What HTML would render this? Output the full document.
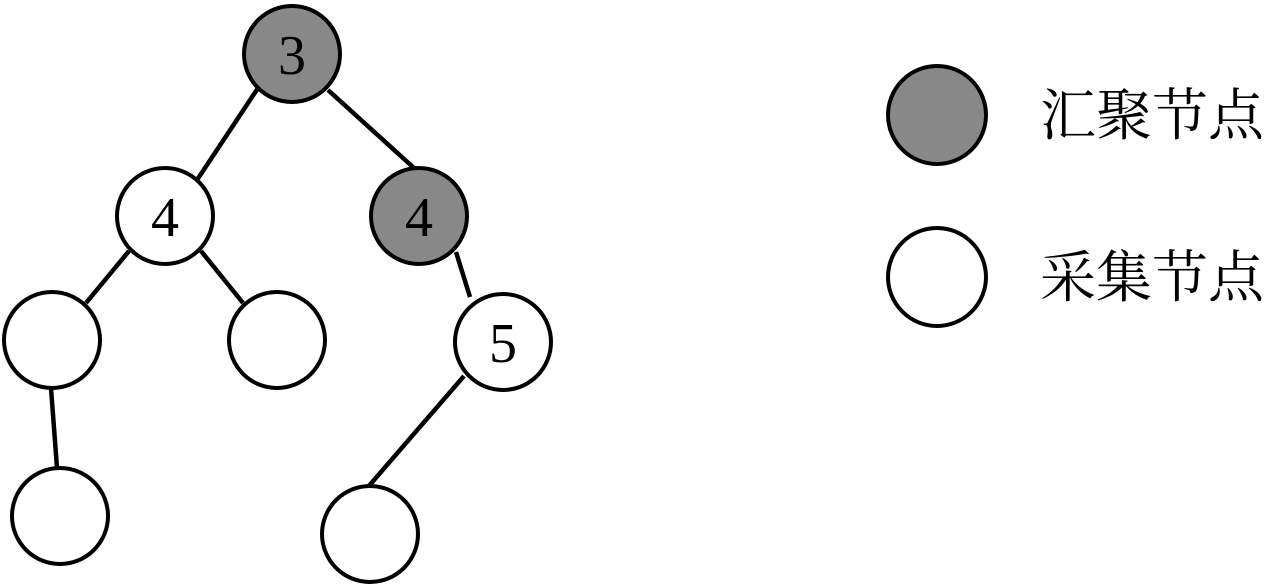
<!DOCTYPE html>
<html><head><meta charset="utf-8"><style>html,body{margin:0;padding:0;background:#fff}</style></head>
<body>
<svg width="1271" height="588" xmlns="http://www.w3.org/2000/svg" style="display:block">
<g stroke="#000" stroke-width="4.5" fill="none">
<line x1="258" y1="88" x2="197" y2="180"/>
<line x1="328" y1="90" x2="414" y2="168"/>
<line x1="129" y1="251" x2="86" y2="303"/>
<line x1="201" y1="251" x2="243" y2="303"/>
<line x1="456" y1="252" x2="470" y2="297"/>
<line x1="464" y1="376" x2="368" y2="487"/>
<line x1="51" y1="388" x2="57" y2="468"/>
</g>
<g stroke="#000" stroke-width="4">
<circle cx="292" cy="54" r="48" fill="#888"/>
<circle cx="165" cy="216" r="48" fill="#fff"/>
<circle cx="419" cy="216" r="48" fill="#888"/>
<circle cx="52" cy="340" r="48" fill="#fff"/>
<circle cx="277" cy="340" r="48" fill="#fff"/>
<circle cx="503" cy="342" r="48" fill="#fff"/>
<circle cx="60" cy="516" r="48" fill="#fff"/>
<circle cx="370" cy="534" r="48" fill="#fff"/>
<circle cx="937" cy="115" r="49" fill="#888"/>
<circle cx="937" cy="277" r="49" fill="#fff"/>
</g>
<g font-family="Liberation Serif, serif" font-size="56" text-anchor="middle" fill="#000">
<text x="292" y="74">3</text>
<text x="165" y="236">4</text>
<text x="419" y="236">4</text>
<text x="503" y="362">5</text>
</g>
<g font-family="'Liberation Serif','Noto Serif CJK SC',serif" font-size="56" fill="#000">
<text x="1040" y="135">汇聚节点</text>
<text x="1040" y="297">采集节点</text>
</g>
</svg>
</body></html>
